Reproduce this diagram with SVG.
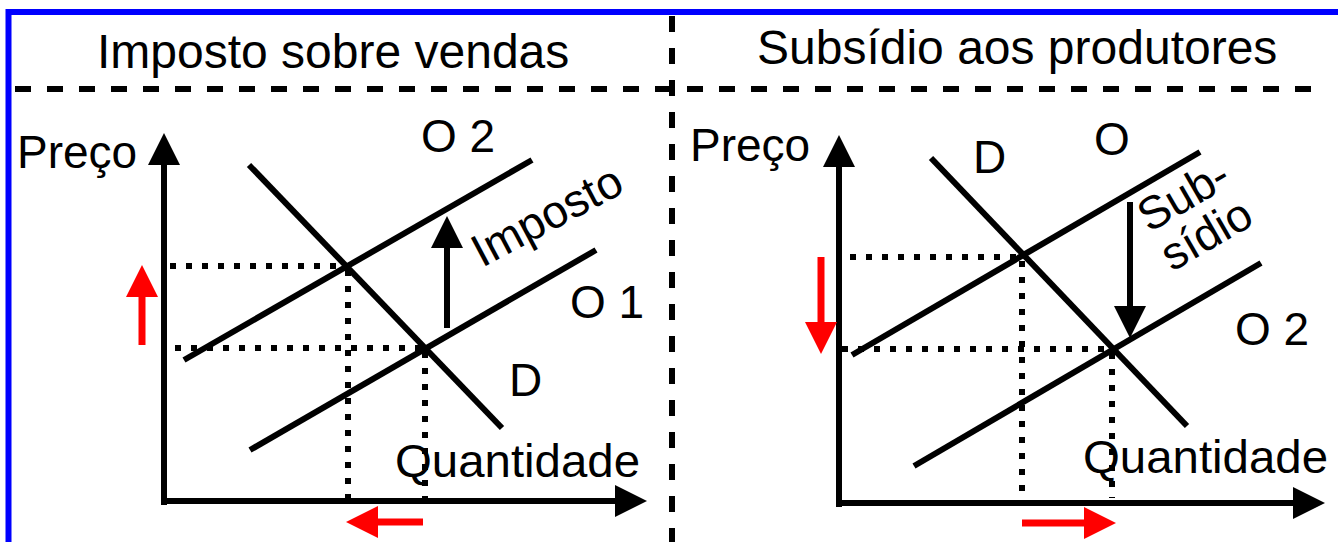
<svg xmlns="http://www.w3.org/2000/svg" width="1338" height="542" viewBox="0 0 1338 542">
<style>
text{font-family:"Liberation Sans",Arial,sans-serif;fill:#000}
.t{font-size:48px}
.l{font-size:46px}
.sep{stroke:#000;stroke-width:6;stroke-dasharray:16 16;fill:none}
.ax{stroke:#000;stroke-width:6;fill:none}
.cv{stroke:#000;stroke-width:6;fill:none}
.dot{stroke:#000;stroke-width:6;stroke-dasharray:6 10;fill:none}
.ar{stroke:#000;stroke-width:6;fill:none}
.rd{stroke:#f00;stroke-width:7;fill:none}
</style>
<defs>
<marker id="hb" viewBox="0 0 32 32" refX="0" refY="16" markerWidth="32" markerHeight="32" markerUnits="userSpaceOnUse" orient="auto"><path d="M0,0 L32,16 L0,32 z" fill="#000"/></marker>
<marker id="hr" viewBox="0 0 32 32" refX="0" refY="16" markerWidth="32" markerHeight="32" markerUnits="userSpaceOnUse" orient="auto"><path d="M0,0 L32,16 L0,32 z" fill="#f00"/></marker>
</defs>
<rect x="8.5" y="12" width="1340" height="540" fill="#fff" stroke="#00f" stroke-width="6"/>
<g id="frame">
<line class="sep" x1="672" y1="16" x2="672" y2="542"/>
<line class="sep" x1="15" y1="89" x2="1320" y2="89"/>
</g>
<g id="titles">
<text class="t" x="97" y="68">Imposto sobre vendas</text>
<text class="t" x="757" y="64">Subsídio aos produtores</text>
</g>
<g id="left-panel">
<g id="left-axes">
<line class="ax" x1="164" y1="505" x2="164" y2="165" marker-end="url(#hb)"/>
<line class="ax" x1="161" y1="501" x2="615" y2="501" marker-end="url(#hb)"/>
<text class="l" x="17" y="168">Preço</text>
<text class="l" x="395" y="477" textLength="245" lengthAdjust="spacingAndGlyphs">Quantidade</text>
</g>
<g id="left-guides">
<line class="dot" x1="170" y1="266" x2="346" y2="266"/>
<line class="dot" x1="175" y1="348" x2="425" y2="348"/>
<line class="dot" x1="348" y1="270" x2="348" y2="498"/>
<line class="dot" x1="425" y1="352" x2="425" y2="498"/>
</g>
<g id="left-O2"><line class="cv" x1="184" y1="360" x2="532" y2="160"/><text class="l" x="421" y="152">O 2</text></g>
<g id="left-O1"><line class="cv" x1="250" y1="450" x2="596" y2="250"/><text class="l" x="570" y="318">O 1</text></g>
<g id="left-D"><line class="cv" x1="249" y1="165" x2="502" y2="428"/><text class="l" x="509" y="396">D</text></g>
<g id="left-tax"><line class="ar" x1="447" y1="328" x2="447" y2="248" marker-end="url(#hb)"/><text class="l" transform="translate(482,268) rotate(-28)">Imposto</text></g>
<g id="left-red">
<line class="rd" x1="142" y1="345" x2="142" y2="297" marker-end="url(#hr)"/>
<line class="rd" x1="423" y1="522" x2="378" y2="522" marker-end="url(#hr)"/>
</g>
</g>
<g id="right-panel">
<g id="right-axes">
<line class="ax" x1="839" y1="507" x2="839" y2="167" marker-end="url(#hb)"/>
<line class="ax" x1="836" y1="503" x2="1293" y2="503" marker-end="url(#hb)"/>
<text class="l" x="690" y="161">Preço</text>
<text class="l" x="1083" y="473" textLength="245" lengthAdjust="spacingAndGlyphs">Quantidade</text>
</g>
<g id="right-guides">
<line class="dot" x1="850" y1="257" x2="1023" y2="257"/>
<line class="dot" x1="842" y1="349" x2="1112" y2="349"/>
<line class="dot" x1="1022" y1="261" x2="1022" y2="494"/>
<line class="dot" x1="1112" y1="353" x2="1112" y2="498"/>
</g>
<g id="right-O"><line class="cv" x1="852" y1="355" x2="1200" y2="152"/><text class="l" x="1094" y="155">O</text></g>
<g id="right-O2"><line class="cv" x1="914" y1="466" x2="1261" y2="263"/><text class="l" x="1235" y="345">O 2</text></g>
<g id="right-D"><line class="cv" x1="931" y1="158" x2="1187" y2="426"/><text class="l" x="973" y="173">D</text></g>
<g id="right-sub"><line class="ar" x1="1130" y1="202" x2="1130" y2="306" marker-end="url(#hb)"/>
<text class="l" transform="translate(1149,233) rotate(-30)">Sub-</text>
<text class="l" transform="translate(1172,272) rotate(-30)">sídio</text></g>
<g id="right-red">
<line class="rd" x1="821" y1="257" x2="821" y2="322" marker-end="url(#hr)"/>
<line class="rd" x1="1022" y1="523" x2="1084" y2="523" marker-end="url(#hr)"/>
</g>
</g>
</svg>
